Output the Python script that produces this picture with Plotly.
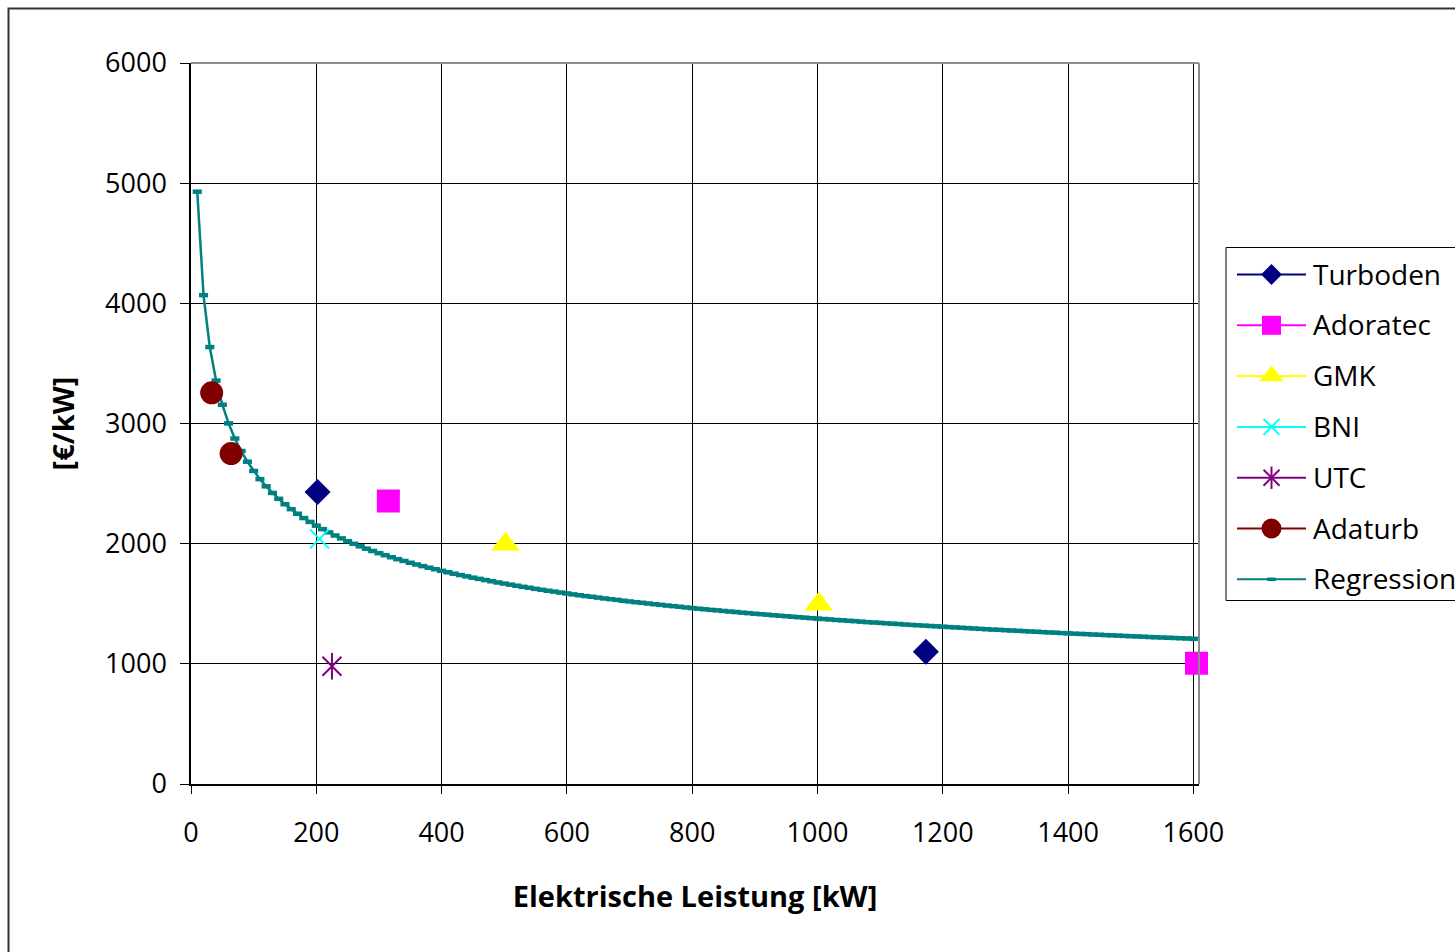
import plotly.graph_objects as go

# ---------------- data ----------------
turboden_x = [202, 1173]
turboden_y = [2430, 1100]
adoratec_x = [315, 1605]
adoratec_y = [2355, 1005]
gmk_x = [502, 1002]
gmk_y = [1995, 1495]
bni_x = [205]
bni_y = [2040]
utc_x = [225]
utc_y = [980]
adaturb_x = [33, 64]
adaturb_y = [3255, 2750]

regression_x = list(range(10, 1610, 10))
regression_y = [
    4929, 4068, 3636, 3357, 3156, 3001, 2875, 2771, 2682, 2605,
    2537, 2477, 2422, 2373, 2328, 2287, 2249, 2213, 2181, 2150,
    2121, 2094, 2068, 2044, 2021, 1999, 1978, 1958, 1939, 1921,
    1904, 1887, 1871, 1856, 1841, 1827, 1813, 1800, 1787, 1774,
    1762, 1750, 1739, 1728, 1717, 1707, 1697, 1687, 1677, 1668,
    1659, 1650, 1641, 1633, 1624, 1616, 1608, 1601, 1593, 1586,
    1578, 1571, 1564, 1558, 1551, 1544, 1538, 1532, 1525, 1519,
    1513, 1508, 1502, 1496, 1491, 1485, 1480, 1475, 1469, 1464,
    1459, 1454, 1449, 1445, 1440, 1435, 1431, 1426, 1422, 1417,
    1413, 1409, 1404, 1400, 1396, 1392, 1388, 1384, 1380, 1376,
    1373, 1369, 1365, 1362, 1358, 1355, 1351, 1347, 1344, 1341,
    1337, 1334, 1331, 1327, 1324, 1321, 1318, 1315, 1312, 1309,
    1306, 1303, 1300, 1297, 1294, 1291, 1288, 1285, 1283, 1280,
    1277, 1275, 1272, 1269, 1267, 1264, 1261, 1259, 1256, 1254,
    1251, 1249, 1247, 1244, 1242, 1239, 1237, 1235, 1232, 1230,
    1228, 1226, 1223, 1221, 1219, 1217, 1215, 1213, 1211, 1208,
]

x_ticks = [0, 200, 400, 600, 800, 1000, 1200, 1400, 1600]
y_ticks = [0, 1000, 2000, 3000, 4000, 5000, 6000]
legend_names = ["Turboden", "Adoratec", "GMK", "BNI", "UTC", "Adaturb", "Regression"]

# ---------------- layout geometry (pixels) ----------------
W, H = 1455, 952
PL, PR, PT, PB = 191, 1199, 63, 784  # plot area edges in pixels
FONT = "Open Sans, Noto Sans, sans-serif"


def fx(p):  # pixel x -> paper (full figure)
    return p / W


def fy(p):  # pixel y -> paper (full figure)
    return 1 - p / H


TEAL = "#008080"
NAVY = "#000080"
MAGENTA = "#FF00FF"
YELLOW = "#FFFF00"
CYAN = "#00FFFF"
PURPLE = "#800080"
MAROON = "#800000"

fig = go.Figure()

# regression
fig.add_trace(go.Scatter(
    x=regression_x, y=regression_y, mode="lines+markers", name="Regression",
    line=dict(color=TEAL, width=2.5),
    marker=dict(symbol="line-ew", size=6.5, color=TEAL, line=dict(color=TEAL, width=4.5)),
    showlegend=False, cliponaxis=False))

fig.add_trace(go.Scatter(x=turboden_x, y=turboden_y, mode="markers", name="Turboden",
                         marker=dict(symbol="diamond", size=20, color=NAVY),
                         showlegend=False, cliponaxis=False))
fig.add_trace(go.Scatter(x=adoratec_x, y=adoratec_y, mode="markers", name="Adoratec",
                         marker=dict(symbol="square", size=23, color=MAGENTA),
                         showlegend=False, cliponaxis=False))
fig.add_trace(go.Scatter(x=gmk_x, y=gmk_y, mode="markers", name="GMK",
                         marker=dict(symbol="triangle-up", size=25, color=YELLOW),
                         showlegend=False, cliponaxis=False))
fig.add_trace(go.Scatter(x=bni_x, y=bni_y, mode="markers", name="BNI",
                         marker=dict(symbol="x-thin-open", size=19, color=CYAN,
                                     line=dict(color=CYAN, width=2)),
                         showlegend=False, cliponaxis=False))
fig.add_trace(go.Scatter(x=utc_x, y=utc_y, mode="markers", name="UTC",
                         marker=dict(symbol="x-thin-open", size=19, color=PURPLE,
                                     line=dict(color=PURPLE, width=2)),
                         showlegend=False, cliponaxis=False))
fig.add_trace(go.Scatter(x=utc_x, y=utc_y, mode="markers", name="UTC",
                         marker=dict(symbol="line-ns-open", size=19, color=PURPLE,
                                     line=dict(color=PURPLE, width=2)),
                         showlegend=False, cliponaxis=False, hoverinfo="skip"))
fig.add_trace(go.Scatter(x=adaturb_x, y=adaturb_y, mode="markers", name="Adaturb",
                         marker=dict(symbol="circle", size=23, color=MAROON),
                         showlegend=False, cliponaxis=False))

# ---------------- manual legend (Excel style) ----------------
leg_styles = [
    dict(color=NAVY, symbol=["diamond"], size=16),
    dict(color=MAGENTA, symbol=["square"], size=19),
    dict(color=YELLOW, symbol=["triangle-up"], size=21),
    dict(color=CYAN, symbol=["x-thin-open"], size=16),
    dict(color=PURPLE, symbol=["x-thin-open", "line-ns-open"], size=16),
    dict(color=MAROON, symbol=["circle"], size=20),
    dict(color=TEAL, symbol=["line-ew"], size=6),
]
leg_y0, leg_dy = 274.5, 50.8
shapes = []
annotations = []
for i, (name, st) in enumerate(zip(legend_names, leg_styles)):
    yy = leg_y0 + i * leg_dy
    shapes.append(dict(type="line", xref="paper", yref="paper",
                       x0=fx(1237), x1=fx(1306), y0=fy(yy), y1=fy(yy),
                       line=dict(color=st["color"], width=2), layer="below"))
    for sym in st["symbol"]:
        mk = dict(symbol=sym, size=st["size"], color=st["color"])
        if sym.endswith("-open") or sym == "line-ew":
            mk["line"] = dict(color=st["color"], width=2 if sym != "line-ew" else 3.5)
        fig.add_trace(go.Scatter(x=[1271.5], y=[yy], xaxis="x2", yaxis="y2",
                                 mode="markers", marker=mk, showlegend=False,
                                 cliponaxis=False, hoverinfo="skip"))
    annotations.append(dict(text=name, xref="paper", yref="paper",
                            x=fx(1311), y=fy(yy - 1), xanchor="left", yanchor="middle",
                            showarrow=False,
                            font=dict(family=FONT, size=28, color="#000000")))

# legend box
shapes.append(dict(type="rect", xref="paper", yref="paper",
                   x0=fx(1226), x1=fx(1480), y0=fy(247.5), y1=fy(600.5),
                   line=dict(color="#000000", width=1), layer="below"))
# plot-area border (top/right gray)
shapes.append(dict(type="line", xref="paper", yref="paper",
                   x0=fx(PL), x1=fx(PR), y0=fy(PT), y1=fy(PT),
                   line=dict(color="#8c8c8c", width=2)))
shapes.append(dict(type="line", xref="paper", yref="paper",
                   x0=fx(PR), x1=fx(PR), y0=fy(PB), y1=fy(PT),
                   line=dict(color="#8c8c8c", width=2)))
# chart-area border
shapes.append(dict(type="rect", xref="paper", yref="paper",
                   x0=fx(8.5), x1=fx(1480), y0=fy(8.5), y1=fy(980),
                   line=dict(color="#333333", width=2)))

axis_common = dict(showgrid=True, gridcolor="#000000", gridwidth=1,
                   showline=True, linecolor="#000000", linewidth=1.5,
                   ticks="outside", tickcolor="#000000", tickwidth=1,
                   zeroline=False, automargin=False,
                   tickfont=dict(family=FONT, size=27, color="#000000"))

fig.update_layout(
    width=W, height=H,
    margin=dict(l=0, r=0, t=0, b=0, pad=0),
    paper_bgcolor="white", plot_bgcolor="rgba(0,0,0,0)",
    showlegend=False,
    font=dict(family=FONT, color="#000000"),
    xaxis=dict(domain=[PL / W, PR / W], range=[0, 1609], tickvals=x_ticks,
               ticklen=8, ticklabelstandoff=16,
               title=dict(text="<b>Elektrische Leistung [kW]</b>", standoff=38,
                          font=dict(family=FONT, size=29, color="#000000")),
               **axis_common),
    yaxis=dict(domain=[1 - PB / H, 1 - PT / H], range=[0, 6000], tickvals=y_ticks,
               ticklen=9, ticklabelstandoff=8,
               title=dict(text="<b>[€/kW]</b>", standoff=22,
                          font=dict(family=FONT, size=29, color="#000000")),
               **axis_common),
    xaxis2=dict(domain=[0, 1], range=[0, W], visible=False, fixedrange=True,
                anchor="y2"),
    yaxis2=dict(domain=[0, 1], range=[H, 0], visible=False, fixedrange=True,
                anchor="x2"),
    shapes=shapes,
    annotations=annotations,
)

fig.write_html("out.html")
